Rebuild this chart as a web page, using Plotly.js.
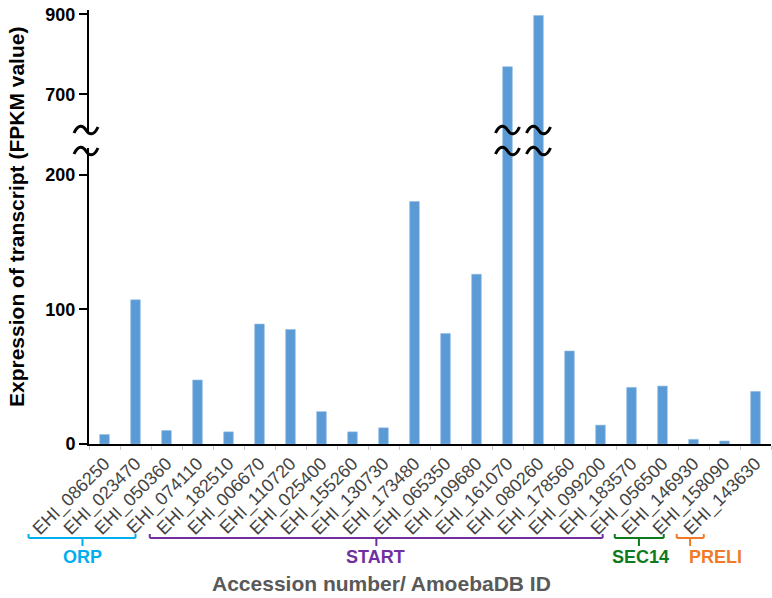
<!DOCTYPE html>
<html>
<head>
<meta charset="utf-8">
<script src="https://cdn.plot.ly/plotly-3.0.1.min.js"></script>
<style>
  html, body { margin: 0; padding: 0; background: #fff; }
  #chart { width: 772px; height: 598px; }
</style>
</head>
<body>
<div id="chart"></div>
<script>
/* FPKM expression of lipid-transfer protein genes, broken y-axis bar chart */

// ---- data ----
const genes = [
  "EHI_086250", "EHI_023470", "EHI_050360", "EHI_074110", "EHI_182510",
  "EHI_006670", "EHI_110720", "EHI_025400", "EHI_155260", "EHI_130730",
  "EHI_173480", "EHI_065350", "EHI_109680", "EHI_161070", "EHI_080260",
  "EHI_178560", "EHI_099200", "EHI_183570", "EHI_056500", "EHI_146930",
  "EHI_158090", "EHI_143630"
];
const fpkm = [
  7, 107, 10, 47.5, 9,
  89, 85, 24, 9, 12,
  180, 82, 126, 769, 897,
  69, 14, 42, 43, 3.4,
  2.2, 39
];
const lowTicks = [0, 100, 200];
const highTicks = [700, 900];
const groupNames = ["ORP", "START", "SEC14", "PRELI"];
const groupColors = ["#00AEEF", "#7030A0", "#0E7A1E", "#F07A28"];
const brokenBars = ["EHI_161070", "EHI_080260"];

// ---- geometry (pixels) ----
const W = 772, H = 598;
const M = { l: 89, r: 1, t: 10, b: 154 };
const plotW = W - M.l - M.r, plotH = H - M.t - M.b;
const breakPx = 140;                        // where the two y domains meet
const split = (H - M.b - breakPx) / plotH;  // domain fraction of lower panel
const px2x = p => (p - M.l) / plotW;
const px2y = p => (H - M.b - p) / plotH;
const cat2x = k => (k + 0.5) / genes.length;   // category units -> paper

// bracket spans in category units: [left, right, tick, label centre]
const brackets = [
  [-2.45, 1.0, -0.71, -0.70],
  [1.46, 16.07, 8.77, 8.73],
  [16.46, 18.04, 17.24, 17.30],
  [18.46, 19.33, 18.89, 19.72],
];

const FONT = "Liberation Sans, Arial, sans-serif";
const BAR = "#5B9BD5";

const barTrace = (yaxis) => ({
  type: "bar", x: genes, y: fpkm, yaxis: yaxis, width: 0.31,
  marker: { color: BAR, line: { color: "#8DB8E2", width: 0.6 } },
  hovertemplate: "%{x}: %{y}<extra></extra>",
});

const yCommon = {
  showline: true, linecolor: "#000", linewidth: 2,
  ticks: "outside", ticklen: 8, tickwidth: 2, tickcolor: "#000",
  showgrid: false, zeroline: false, fixedrange: true,
  tickfont: { family: FONT, size: 18, color: "#000", weight: "bold" },
};

const shapes = [
  // hide the axis line between the break marks
  { type: "rect", xref: "paper", yref: "paper", layer: "above",
    x0: px2x(80), x1: px2x(95), y0: px2y(148), y1: px2y(132),
    fillcolor: "#fff", line: { width: 0 } },
];
const annotations = [];
const note = (o) => annotations.push({ xref: "paper", yref: "paper", showarrow: false,
  xanchor: "center", yanchor: "middle", ...o });

// break marks: a tilde drawn in pixels around an anchor point
const TILDE = "M -12 -3 C -8 6, -3 5, 0 0 C 3 -5, 8 -6, 12 3";
const tilde = (ax, ay) => shapes.push({ type: "path", layer: "above",
  xref: "paper", yref: "paper", xsizemode: "pixel", ysizemode: "pixel",
  xanchor: ax, yanchor: ay, path: TILDE, line: { color: "#000", width: 3 } });
[130, 151].forEach(py => {
  tilde(px2x(86), px2y(py));
  brokenBars.forEach(g => tilde(cat2x(genes.indexOf(g)), px2y(py)));
});

// group brackets
const bY = px2y(538);
brackets.forEach((b, i) => {
  const c = groupColors[i];
  const ln = { color: c, width: 2 };
  const seg = (x0, x1, y0, y1) => shapes.push({ type: "line", xref: "paper", yref: "paper",
    x0: cat2x(x0), x1: cat2x(x1), y0: y0, y1: y1, line: ln });
  seg(b[0], b[1], bY, bY);
  seg(b[0], b[0], bY, px2y(534));
  seg(b[1], b[1], bY, px2y(534));
  seg(b[2], b[2], bY, px2y(546));
  note({ x: cat2x(b[3]), y: px2y(557), text: groupNames[i],
    font: { family: FONT, size: 18, color: c, weight: "bold" } });
});

// axis titles
note({ x: px2x(381), y: px2y(583), text: "Accession number/ AmoebaDB ID",
  font: { family: FONT, size: 21, color: "#595959", weight: "bold" } });
note({ x: px2x(16), y: px2y(217), textangle: -90, text: "Expression of transcript (FPKM value)",
  font: { family: FONT, size: 21, color: "#000", weight: "bold" } });

Plotly.newPlot("chart", [barTrace("y"), barTrace("y2")], {
  width: W, height: H,
  margin: M,
  paper_bgcolor: "#fff", plot_bgcolor: "#fff",
  showlegend: false,
  xaxis: {
    type: "category", range: [-0.5, genes.length - 0.5], fixedrange: true,
    showline: true, linecolor: "#000", linewidth: 2,
    ticks: "outside", tickson: "boundaries", ticklen: 4, tickcolor: "#c8c8c8",
    tickangle: -45, showgrid: false, zeroline: false,
    tickfont: { family: FONT, size: 18, color: "#444" },
  },
  yaxis: { ...yCommon, domain: [0, split],
    range: [0, (H - M.b - breakPx) / 1.347], tickvals: lowTicks },
  yaxis2: { ...yCommon, domain: [split, 1], anchor: "x",
    range: [700 - (breakPx - 94.3) / 0.4, 900 + (14.3 - M.t) / 0.4], tickvals: highTicks },
  shapes: shapes,
  annotations: annotations,
}, { displayModeBar: false, staticPlot: true });
</script>
</body>
</html>
